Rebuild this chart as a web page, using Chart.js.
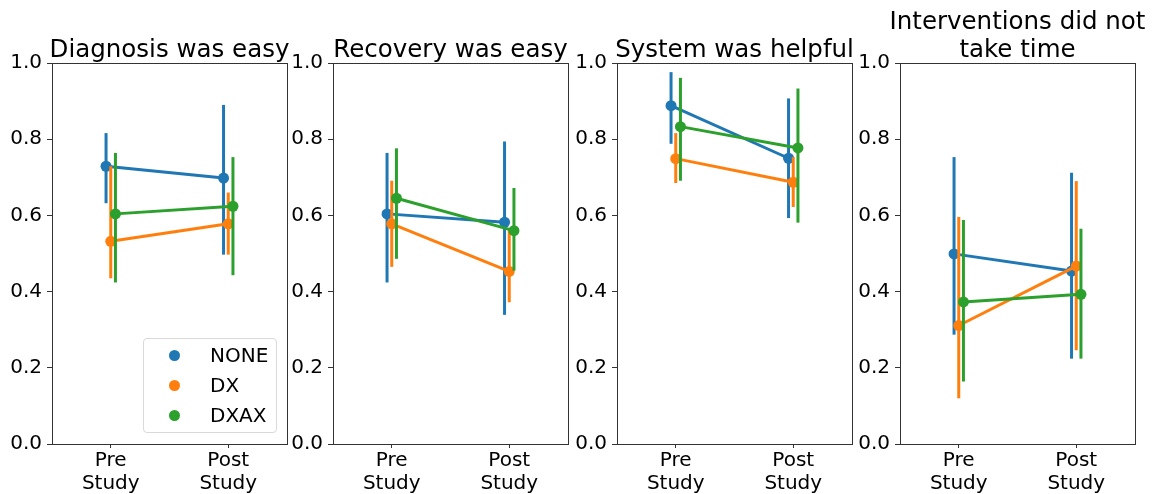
<!DOCTYPE html>
<html>
<head>
<meta charset="utf-8">
<script src="https://cdn.jsdelivr.net/npm/chart.js@4/dist/chart.umd.min.js"></script>
<style>
  body { margin: 0; background: #fff; width: 1159px; height: 494px; overflow: hidden; position: relative; font-family: "DejaVu Sans", sans-serif; }
  canvas { position: absolute; top: 0; }
  #legend { position: absolute; left: 143px; top: 338px; width: 134px; height: 95px; border: 1px solid #d9d9d9; border-radius: 4px; background: rgba(255,255,255,0.8); box-sizing: border-box; }
  .item { position: absolute; left: 0; font-size: 20px; color: #000; }
  .dot { position: absolute; left: 25px; width: 11px; height: 11px; border-radius: 50%; }
  .lbl { position: absolute; left: 66px; white-space: nowrap; }
</style>
</head>
<body>
<canvas id="c0" width="339" height="494" style="left:0px"></canvas>
<canvas id="c1" width="339" height="494" style="left:281px"></canvas>
<canvas id="c2" width="339" height="494" style="left:565px"></canvas>
<canvas id="c3" width="339" height="494" style="left:848px"></canvas>
<div id="legend"></div>
<script>
// categories and groups
const categories = [["Pre", "Study"], ["Post", "Study"]];
const groups = ["NONE", "DX", "DXAX"];
const colors = ["#1f77b4", "#ff7f0e", "#2ca02c"];
const titles = [["Diagnosis was easy"], ["Recovery was easy"], ["System was helpful"], ["Interventions did not", "take time"]];
const yTicks = [0, 0.2, 0.4, 0.6, 0.8, 1.0];

// rows: NONE, DX, DXAX ; columns: Pre, Post
const diagnosisMean = [[0.729, 0.698], [0.532, 0.578], [0.604, 0.624]];
const diagnosisLow  = [[0.632, 0.497], [0.435, 0.497], [0.424, 0.443]];
const diagnosisHigh = [[0.816, 0.890], [0.729, 0.660], [0.764, 0.753]];

const recoveryMean = [[0.604, 0.582], [0.578, 0.453], [0.645, 0.560]];
const recoveryLow  = [[0.424, 0.339], [0.465, 0.372], [0.486, 0.455]];
const recoveryHigh = [[0.764, 0.794], [0.691, 0.565], [0.776, 0.672]];

const helpfulMean = [[0.888, 0.750], [0.749, 0.687], [0.833, 0.777]];
const helpfulLow  = [[0.788, 0.593], [0.685, 0.622], [0.691, 0.581]];
const helpfulHigh = [[0.976, 0.907], [0.816, 0.753], [0.961, 0.933]];

const timeMean = [[0.499, 0.454], [0.311, 0.467], [0.373, 0.393]];
const timeLow  = [[0.287, 0.224], [0.120, 0.246], [0.164, 0.224]];
const timeHigh = [[0.753, 0.712], [0.596, 0.690], [0.588, 0.565]];

const panels = [
  [diagnosisMean, diagnosisLow, diagnosisHigh],
  [recoveryMean, recoveryLow, recoveryHigh],
  [helpfulMean, helpfulLow, helpfulHigh],
  [timeMean, timeLow, timeHigh]
];

const dodge = [-0.04, 0, 0.04];
const font = "DejaVu Sans";

// axes box + title drawn over the chart area
const frame = {
  id: "frame",
  afterDraw(chart, args, opts) {
    const a = chart.chartArea, ctx = chart.ctx;
    ctx.save();
    ctx.strokeStyle = "#333";
    ctx.lineWidth = 1;
    ctx.strokeRect(Math.round(a.left) + 0.5, Math.round(a.top) + 0.5, Math.round(a.right - a.left), Math.round(a.bottom - a.top));
    ctx.fillStyle = "#000";
    ctx.font = "24.5px " + font;
    ctx.textAlign = "center";
    ctx.textBaseline = "alphabetic";
    const lines = opts.lines;
    const cx = (a.left + a.right) / 2;
    lines.forEach((t, i) => {
      ctx.fillText(t, cx, a.top - 6 - (lines.length - 1 - i) * 28);
    });
    ctx.restore();
  }
};

function buildDatasets(p) {
  const [mean, low, high] = panels[p];
  const sets = [];
  groups.forEach((g, h) => {
    categories.forEach((c, i) => {
      sets.push({
        label: g + " err",
        data: [{ x: i + dodge[h], y: low[h][i] }, { x: i + dodge[h], y: high[h][i] }],
        borderColor: colors[h],
        borderWidth: 3,
        pointRadius: 0,
        order: 20 - h * 2
      });
    });
    sets.push({
      label: g,
      data: mean[h].map((v, i) => ({ x: i + dodge[h], y: v })),
      borderColor: colors[h],
      backgroundColor: colors[h],
      borderWidth: 3,
      pointRadius: 5.5,
      pointBorderWidth: 0,
      order: 19 - h * 2
    });
  });
  return sets;
}

for (let p = 0; p < 4; p++) {
  new Chart(document.getElementById("c" + p), {
    type: "line",
    data: { datasets: buildDatasets(p) },
    plugins: [frame],
    options: {
      responsive: false,
      animation: false,
      layout: { padding: { top: 63, right: 52, left: 0, bottom: 0 } },
      plugins: {
        legend: { display: false },
        tooltip: { enabled: false },
        title: { display: false },
        frame: { lines: titles[p] }
      },
      scales: {
        x: {
          type: "linear",
          min: -0.5,
          max: 1.5,
          afterBuildTicks: s => { s.ticks = [{ value: 0 }, { value: 1 }]; },
          afterFit: s => { s.height = 50; },
          ticks: {
            callback: v => categories[v],
            font: { family: font, size: 20, lineHeight: 1.15 },
            color: "#000",
            padding: 1,
            maxRotation: 0,
            autoSkip: false
          },
          grid: { drawOnChartArea: false, drawTicks: true, tickLength: 4, color: "#333" },
          border: { display: false }
        },
        y: {
          min: 0,
          max: 1,
          afterBuildTicks: s => { s.ticks = yTicks.map(v => ({ value: v })); },
          afterFit: s => { s.width = 52; },
          ticks: {
            callback: v => v.toFixed(1),
            font: { family: font, size: 20 },
            color: "#000",
            padding: 5
          },
          grid: { drawOnChartArea: false, drawTicks: true, tickLength: 5, color: "#333" },
          border: { display: false }
        }
      }
    }
  });
}

// legend inside the first panel
const legend = document.getElementById("legend");
groups.forEach((g, h) => {
  const row = document.createElement("div");
  row.className = "item";
  row.style.top = (4 + h * 30) + "px";
  row.innerHTML = '<span class="dot" style="top:7px;background:' + colors[h] + '"></span><span class="lbl">' + g + "</span>";
  legend.appendChild(row);
});
</script>
</body>
</html>
